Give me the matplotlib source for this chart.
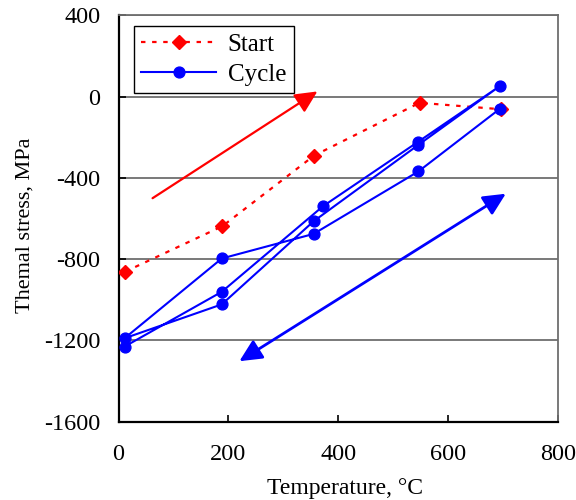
import matplotlib
matplotlib.use('Agg')
import matplotlib.pyplot as plt

# Data
start_T = [12, 189, 356, 548, 697]
start_S = [-862, -638, -290, -30, -62]

cycle_T = [11, 188, 372, 546, 694, 546, 355, 188, 11, 188, 355, 546, 694]
cycle_S = [-1231, -961, -540, -221, 52, -237, -614, -1023, -1190, -797, -676, -368, -60]

red_arrow_T = [62, 362]
red_arrow_S = [-500, 26]
blue_arrow_T = [220, 705]
blue_arrow_S = [-1303, -478]

xticks = [0, 200, 400, 600, 800]
yticks = [-1600, -1200, -800, -400, 0, 400]

plt.rcParams['font.family'] = ['Liberation Serif', 'DejaVu Serif']
FS = 17.5

fig = plt.figure(figsize=(5.76, 5.0), dpi=100)
ax = fig.add_axes([118.5 / 576, 1 - 421.5 / 500, 439.5 / 576, 406 / 500])

ax.plot(start_T, start_S, color='#ff0000', lw=1.6, ls=(0, (2, 3)),
        marker='D', ms=7.5, mfc='#ff0000', mec='#ff0000', label='Start', zorder=3)
ax.plot(cycle_T, cycle_S, color='#0000ff', lw=1.5, ls='-',
        marker='o', ms=7.8, mfc='#0000ff', mec='#0000ff', label='Cycle', zorder=4)

ax.annotate('', xy=(red_arrow_T[1], red_arrow_S[1]), xytext=(red_arrow_T[0], red_arrow_S[0]),
            arrowprops=dict(arrowstyle='-|>,head_length=1.35,head_width=0.65', color='#ff0000',
                            lw=1.6, shrinkA=0, shrinkB=0, mutation_scale=10))
ax.annotate('', xy=(blue_arrow_T[1], blue_arrow_S[1]), xytext=(blue_arrow_T[0], blue_arrow_S[0]),
            arrowprops=dict(arrowstyle='<|-|>,head_length=1.35,head_width=0.65', color='#0000ff',
                            lw=2.0, shrinkA=0, shrinkB=0, mutation_scale=10))

ax.set_xlim(0, 800)
ax.set_ylim(-1600, 400)
ax.set_xticks(xticks)
ax.set_yticks(yticks)
ax.set_xticklabels([str(v) for v in xticks], fontsize=FS)
ax.set_yticklabels([str(v) for v in yticks], fontsize=FS)
ax.tick_params(axis='both', direction='in', length=5, width=1.2, color='black')
ax.tick_params(axis='y', pad=13)
ax.tick_params(axis='x', pad=16)

ax.yaxis.grid(True, color='#6e6e6e', lw=1.3)
ax.set_axisbelow(True)

for s in ['left', 'bottom']:
    ax.spines[s].set_color('black')
    ax.spines[s].set_linewidth(1.6)
for s in ['top', 'right']:
    ax.spines[s].set_color('#6e6e6e')
    ax.spines[s].set_linewidth(1.3)

ax.set_xlabel('Temperature, °C', fontsize=17)
ax.set_ylabel('Themal stress, MPa', fontsize=16)
ax.xaxis.set_label_coords(0.515, -0.14)
ax.yaxis.set_label_coords(-0.19, 0.484)

leg = ax.legend(loc='upper left', bbox_to_anchor=(0.035, 0.975), fontsize=18,
                frameon=True, fancybox=False, shadow=False, framealpha=1,
                edgecolor='black', handlelength=3.0, handletextpad=0.45,
                labelspacing=0.3, borderpad=0.3, borderaxespad=0)
leg.get_frame().set_linewidth(1.0)

fig.savefig('out.png', dpi=100)
